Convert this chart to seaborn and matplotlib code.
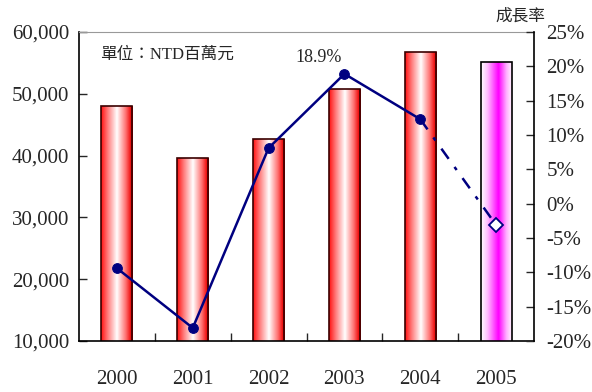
import numpy as np
import pandas as pd
import matplotlib
matplotlib.use('Agg')
import matplotlib.pyplot as plt
from matplotlib.colors import LinearSegmentedColormap
from matplotlib.ticker import FuncFormatter, MultipleLocator, FixedLocator
import seaborn as sns

# data
years = ['2000', '2001', '2002', '2003', '2004', '2005']
revenue = [48100, 39600, 42700, 50800, 56800, 55100]   # NTD millions
growth = [-9.4, -18.1, 8.1, 18.9, 12.3, -3.1]           # %

sns.set_style('ticks')
plt.rcParams['font.family'] = ['Liberation Serif', 'Noto Sans CJK TC', 'DejaVu Sans']

fig = plt.figure(figsize=(5.92, 3.92), dpi=100)
ax = fig.add_axes([79 / 592, 51 / 392, 455 / 592, 309 / 392])

df = pd.DataFrame({'year': years, 'revenue': revenue})
sns.barplot(data=df, x='year', y='revenue', ax=ax, width=0.41,
            color='white', edgecolor='#3a0000', linewidth=1.2, zorder=2)
ax.set_ylim(10000, 60000)
ax.set_xlim(-0.5, len(years) - 0.5)

# gradient fill for each bar
red_cmap = LinearSegmentedColormap.from_list(
    'redbar', [(0.0, '#ff1010'), (0.22, '#ff8080'), (0.5, '#ffffff'),
               (0.78, '#ff7070'), (0.93, '#f01010'), (1.0, '#b00000')])
mag_cmap = LinearSegmentedColormap.from_list(
    'magbar', [(0.0, '#ffffff'), (0.2, '#ffc0ff'), (0.55, '#ff00ff'),
               (0.8, '#ffb0ff'), (1.0, '#ffffff')])
grad = np.linspace(0, 1, 200).reshape(1, -1)
for i, p in enumerate(ax.patches):
    x0, y0 = p.get_x(), 10000
    w, h = p.get_width(), p.get_height()
    cmap = mag_cmap if i == len(ax.patches) - 1 else red_cmap
    im = ax.imshow(grad, cmap=cmap, aspect='auto', extent=(x0, x0 + w, y0, h),
                   zorder=1.5, interpolation='bilinear')
    im.set_clip_path(p)
    p.set_facecolor('none')
    if i == len(ax.patches) - 1:
        p.set_edgecolor('black')

ax.set_xlabel('')
ax.set_ylabel('')
ax.yaxis.set_major_locator(MultipleLocator(10000))
ax.yaxis.set_major_formatter(FuncFormatter(lambda v, _: f'{int(v):,}'))
ax.tick_params(axis='y', direction='in', length=6, labelsize=15, pad=7, width=1)
ax.tick_params(axis='x', which='major', length=0, labelsize=15, pad=21)
ax.xaxis.set_minor_locator(FixedLocator(np.arange(0.5, len(years) - 1, 1.0)))
ax.tick_params(axis='x', which='minor', direction='in', length=6, width=1)
for s in ['left', 'bottom']:
    ax.spines[s].set_color('black')
    ax.spines[s].set_linewidth(1.2)
ax.spines['top'].set_visible(True)
ax.spines['top'].set_color('#999999')
ax.spines['right'].set_visible(False)

ax.text(0.046, 0.925, '單位：NTD百萬元', transform=ax.transAxes,
        fontsize=12, ha='left', va='center')

# growth rate line on the right axis
ax2 = ax.twinx()
xpos = np.arange(len(years))
sns.lineplot(x=xpos[:-1], y=growth[:-1], ax=ax2, color='#000080', linewidth=1.8,
             marker='o', markersize=7, markeredgecolor='#000080', zorder=5)
sns.lineplot(x=xpos[-2:], y=growth[-2:], ax=ax2, color='#000080', linewidth=1.8,
             linestyle=(0, (5, 4, 1.5, 4)), zorder=4)
ax2.plot(xpos[-1], growth[-1], marker='D', markersize=7, color='white',
         markeredgecolor='#000080', markeredgewidth=1.3, zorder=6)
ax2.set_ylim(-20, 25)
ax2.yaxis.set_major_locator(MultipleLocator(5))
ax2.yaxis.set_major_formatter(FuncFormatter(lambda v, _: f'{int(round(v))}%'))
ax2.tick_params(axis='y', direction='in', length=6, labelsize=15, pad=9, width=1)
for s in ['left', 'bottom', 'top']:
    ax2.spines[s].set_visible(False)
ax2.spines['right'].set_visible(True)
ax2.spines['right'].set_color('black')
ax2.spines['right'].set_linewidth(1.2)
ax2.set_xlim(-0.5, len(years) - 0.5)

i_max = int(np.argmax(growth))
ax2.annotate(f'{growth[i_max]}%', (xpos[i_max], growth[i_max]),
             xytext=(-2, 6), textcoords='offset points', ha='right', va='bottom',
             fontsize=13)

ax2.text(0.971, 1.025, '成長率', transform=ax2.transAxes, fontsize=12,
         ha='center', va='bottom')

fig.savefig('out.png', dpi=100)
